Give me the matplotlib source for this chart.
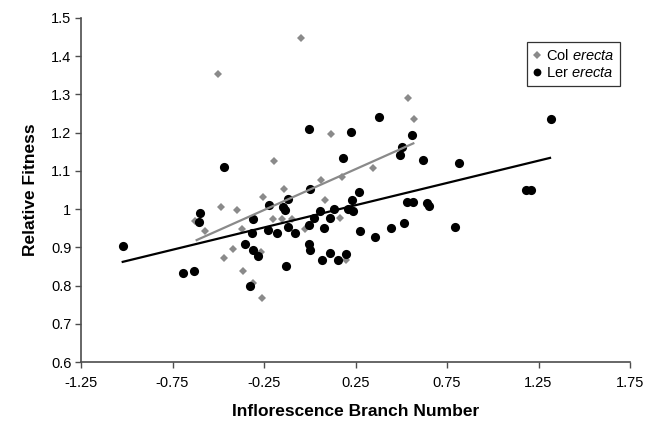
import matplotlib
matplotlib.use("Agg")
import matplotlib.pyplot as plt

# ---- data ----
col_x = [-0.048, -0.503, -0.194, 0.116, 0.344, 0.175, 0.061, 0.539, 0.571, -0.257,
         -0.483, -0.399, -0.627, -0.572, -0.202, -0.369, -0.421, -0.269, -0.469, -0.363,
         -0.308, -0.259, -0.141, 0.085, -0.152, -0.095, 0.165, -0.024, 0.198]
col_y = [1.448, 1.353, 1.127, 1.197, 1.108, 1.085, 1.076, 1.291, 1.236, 1.032,
         1.005, 0.998, 0.968, 0.942, 0.975, 0.948, 0.896, 0.887, 0.871, 0.839,
         0.807, 0.768, 1.053, 1.023, 0.975, 0.975, 0.977, 0.947, 0.867]

ler_x = [-0.469, -0.002, 0.225, 0.378, 0.184, 0.557, 0.506, 0.492, 0.620, 0.817,
         1.318, 1.182, 1.209, 0.642, 0.652, 0.530, 0.566, 0.794, -1.022, -0.221,
         -0.600, -0.604, -0.308, -0.313, -0.228, -0.178, -0.354, -0.312, -0.281, -0.691,
         -0.633, -0.324, 0.001, 0.271, -0.120, 0.233, -0.148, -0.135, 0.056, 0.134,
         0.211, 0.236, 0.022, 0.111, -0.119, -0.082, -0.006, 0.078, 0.276, 0.357,
         0.442, 0.515, -0.002, 0.001, -0.131, 0.065, 0.112, 0.153, 0.198]
ler_y = [1.111, 1.210, 1.201, 1.240, 1.135, 1.195, 1.162, 1.142, 1.128, 1.121,
         1.236, 1.050, 1.050, 1.015, 1.007, 1.019, 1.019, 0.952, 0.903, 1.010,
         0.991, 0.966, 0.975, 0.938, 0.945, 0.937, 0.909, 0.892, 0.877, 0.832,
         0.838, 0.798, 1.053, 1.045, 1.027, 1.023, 1.006, 0.998, 0.996, 1.001,
         1.000, 0.994, 0.977, 0.977, 0.954, 0.937, 0.958, 0.951, 0.942, 0.928,
         0.951, 0.963, 0.909, 0.893, 0.851, 0.867, 0.884, 0.867, 0.882]

col_trend_x = [-0.618, 0.566]
col_trend_y = [0.919, 1.172]
ler_trend_x = [-1.022, 1.313]
ler_trend_y = [0.862, 1.134]

x_ticks = [-1.25, -0.75, -0.25, 0.25, 0.75, 1.25, 1.75]
x_tick_labels = ["-1.25", "-0.75", "-0.25", "0.25", "0.75", "1.25", "1.75"]
y_ticks = [0.6, 0.7, 0.8, 0.9, 1.0, 1.1, 1.2, 1.3, 1.4, 1.5]
y_tick_labels = ["0.6", "0.7", "0.8", "0.9", "1", "1.1", "1.2", "1.3", "1.4", "1.5"]

series_labels = ["Col $\\mathit{erecta}$", "Ler $\\mathit{erecta}$"]
x_title = "Inflorescence Branch Number"
y_title = "Relative Fitness"

# ---- styling ----
plt.rcParams["font.family"] = ["Liberation Sans", "DejaVu Sans"]
plt.rcParams["mathtext.fontset"] = "custom"
plt.rcParams["mathtext.it"] = "Liberation Sans:italic"
plt.rcParams["mathtext.rm"] = "Liberation Sans"

GRAY = "#8a8a8a"
AXC = "#4d4d4d"

fig = plt.figure(figsize=(6.64, 4.24), dpi=100)
ax = fig.add_axes([81 / 664, 1 - 362 / 424, (630 - 81) / 664, (362 - 18) / 424])

ax.plot(col_x, col_y, linestyle="none", marker="D", markersize=4.5,
        color=GRAY, markeredgewidth=0, label=series_labels[0], zorder=3)
ax.plot(ler_x, ler_y, linestyle="none", marker="o", markersize=6.6,
        color="black", markeredgewidth=0, label=series_labels[1], zorder=4)
ax.plot(col_trend_x, col_trend_y, color=GRAY, linewidth=1.6, zorder=5)
ax.plot(ler_trend_x, ler_trend_y, color="black", linewidth=1.6, zorder=5)

ax.set_xlim(-1.25, 1.75)
ax.set_ylim(0.6, 1.5)
ax.set_xticks(x_ticks)
ax.set_xticklabels(x_tick_labels)
ax.set_yticks(y_ticks)
ax.set_yticklabels(y_tick_labels)

for s in ["top", "right"]:
    ax.spines[s].set_visible(False)
for s in ["left", "bottom"]:
    ax.spines[s].set_color(AXC)
    ax.spines[s].set_linewidth(1.2)
ax.tick_params(axis="both", colors=AXC, direction="out", length=4, width=1.0,
               labelsize=10.5, labelcolor="black", pad=3)
ax.tick_params(axis="x", pad=6)

ax.set_xlabel(x_title, fontsize=12.5, fontweight="bold", labelpad=10)
ax.set_ylabel(y_title, fontsize=12.5, fontweight="bold", labelpad=9)

leg = ax.legend(loc="upper left", bbox_to_anchor=(527 / 664, 1 - 42 / 424),
                bbox_transform=fig.transFigure, frameon=True, fancybox=False,
                fontsize=10.5, handlelength=0.6, handletextpad=0.3,
                borderpad=0.4, labelspacing=0.25, borderaxespad=0,
                markerscale=0.85)
leg.get_frame().set_edgecolor("black")
leg.get_frame().set_linewidth(0.9)

fig.savefig("out.png", dpi=100)
